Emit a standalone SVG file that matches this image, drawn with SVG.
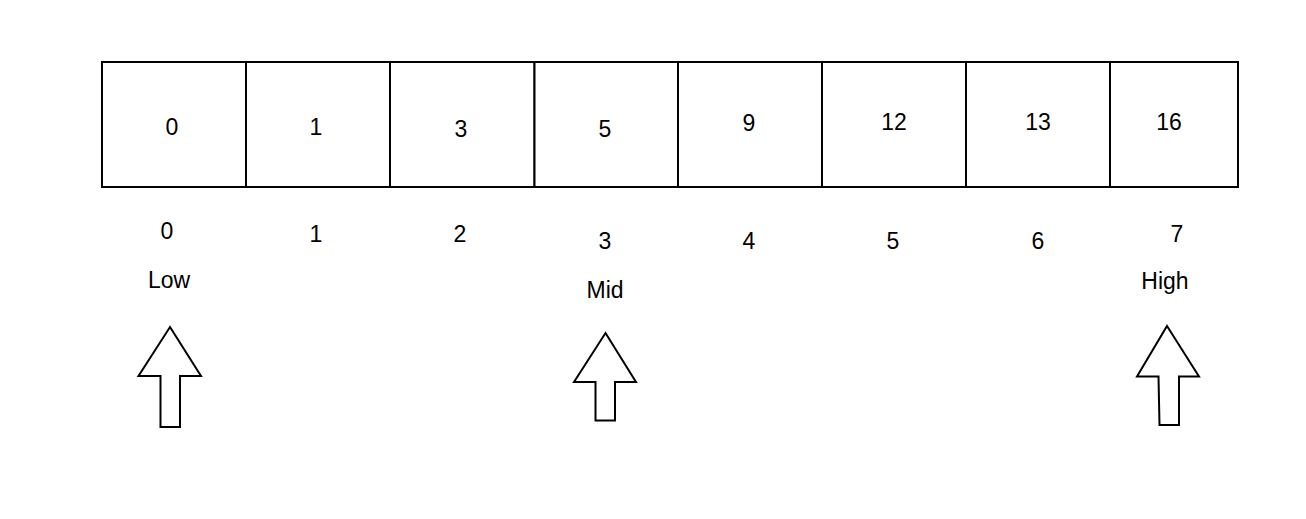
<svg xmlns="http://www.w3.org/2000/svg" width="1306" height="519" viewBox="0 0 1306 519">
<style>
.cell{fill:#fff;stroke:#000;stroke-width:2}
.arr{fill:#fff;stroke:#000;stroke-width:2;stroke-linejoin:miter}
text{font-family:"Liberation Sans",Arial,sans-serif;font-size:23px;fill:#000;text-anchor:middle}
</style>
<rect width="1306" height="519" fill="#fff"/>
<g id="array">
<g id="cell0"><rect class="cell" x="102" y="62" width="144" height="125"/><text x="172" y="135">0</text></g>
<g id="cell1"><rect class="cell" x="246" y="62" width="144" height="125"/><text x="316" y="135">1</text></g>
<g id="cell2"><rect class="cell" x="390" y="62" width="144.5" height="125"/><text x="461" y="137">3</text></g>
<g id="cell3"><rect class="cell" x="534.5" y="62" width="143.5" height="125"/><text x="605" y="136.5">5</text></g>
<g id="cell4"><rect class="cell" x="678" y="62" width="144" height="125"/><text x="749" y="130.5">9</text></g>
<g id="cell5"><rect class="cell" x="822" y="62" width="144" height="125"/><text x="894" y="129.5">12</text></g>
<g id="cell6"><rect class="cell" x="966" y="62" width="144" height="125"/><text x="1038" y="129.5">13</text></g>
<g id="cell7"><rect class="cell" x="1110" y="62" width="128" height="125"/><text x="1169" y="129.5">16</text></g>
</g>
<g id="indices">
<text x="167" y="238.5">0</text>
<text x="316" y="242">1</text>
<text x="460" y="241.5">2</text>
<text x="605" y="248.5">3</text>
<text x="749" y="248.5">4</text>
<text x="893" y="248.5">5</text>
<text x="1038" y="248.5">6</text>
<text x="1177" y="242">7</text>
</g>
<g id="low"><text x="169" y="287.5">Low</text><polygon class="arr" points="170,327 201,376 180,376 180,427 160.5,427 160.5,376 138.5,376"/></g>
<g id="mid"><text x="605" y="298">Mid</text><polygon class="arr" points="605.5,333 636,382 615,382 615,420.5 595.5,420.5 595.5,382 574,382"/></g>
<g id="high"><text x="1165" y="288.5">High</text><polygon class="arr" points="1167,326 1199,376.5 1179,376.5 1179,425 1159.5,425 1158.5,376.5 1137,376.5"/></g>
<g id="connectors"></g>
</svg>
